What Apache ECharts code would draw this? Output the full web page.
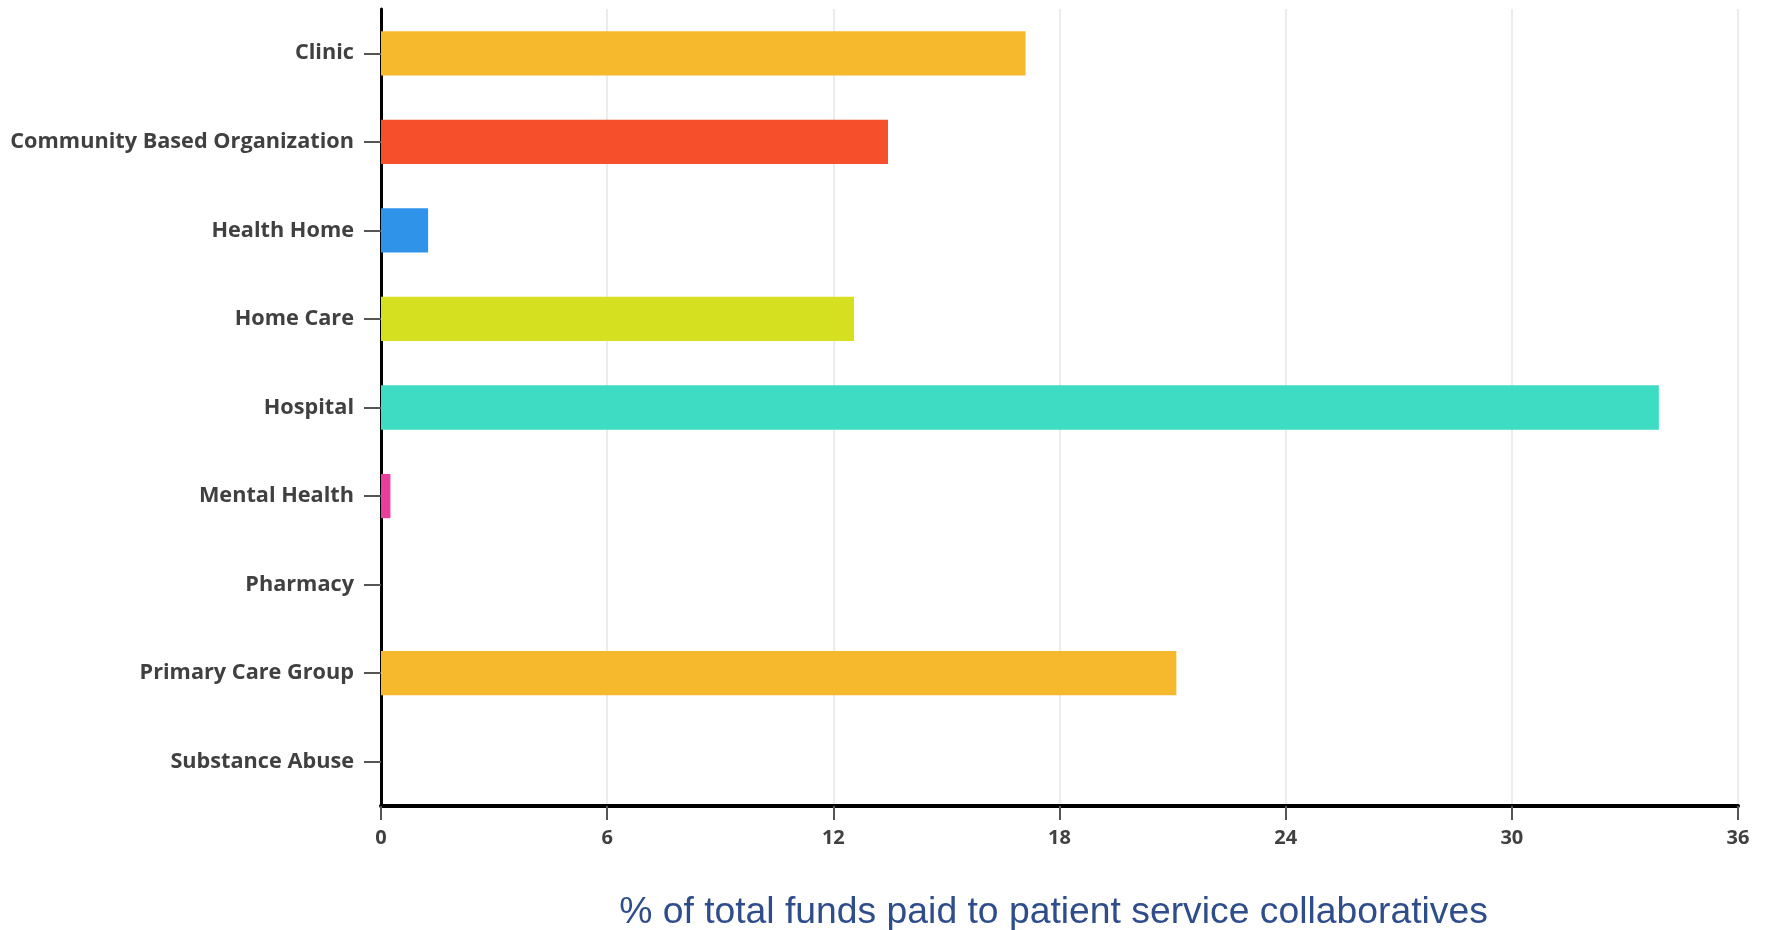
<!DOCTYPE html>
<html>
<head>
<meta charset="utf-8">
<script src="https://cdn.jsdelivr.net/npm/echarts@6/dist/echarts.min.js"></script>
<style>
  html, body { margin: 0; padding: 0; background: #fff; }
  #main { width: 1772px; height: 930px; }
</style>
</head>
<body>
<div id="main"></div>
<script>
// categories, top to bottom
var categories = ['Clinic', 'Community Based Organization', 'Health Home', 'Home Care',
  'Hospital', 'Mental Health', 'Pharmacy', 'Primary Care Group', 'Substance Abuse'];
// % of total funds
var values = [17.1, 13.45, 1.25, 12.55, 33.9, 0.25, 0, 21.1, 0];
var barColors = ['#f6b92d', '#f54f2b', '#2f93e9', '#d5e020', '#3ddcc3', '#e83f9e',
  '#999999', '#f6b92d', '#999999'];
var xTicks = [0, 6, 12, 18, 24, 30, 36];
var axisTitle = '% of total funds paid to patient service collaboratives';

var chart = echarts.init(document.getElementById('main'));

chart.setOption({
  animation: false,
  grid: { left: 381, right: 34, top: 9, bottom: 124, outerBoundsMode: 'none' },
  xAxis: {
    type: 'value',
    min: xTicks[0],
    max: xTicks[xTicks.length - 1],
    interval: xTicks[1] - xTicks[0],
    name: axisTitle,
    nameLocation: 'middle',
    nameGap: 88,
    nameTextStyle: {
      fontFamily: 'Liberation Sans', fontSize: 37.3, color: '#2f4c8b',
      padding: [0, 12, 0, 0]
    },
    axisLine: { show: true, lineStyle: { color: '#000', width: 4 } },
    axisTick: { show: true, length: 14, lineStyle: { color: '#555', width: 2 } },
    axisLabel: { margin: 22, fontFamily: 'Open Sans', fontWeight: 'bold', fontSize: 20, color: '#404040' },
    splitLine: { show: true, lineStyle: { color: '#ececec', width: 2 } }
  },
  yAxis: {
    type: 'category',
    inverse: true,
    data: categories,
    axisLine: { show: true, lineStyle: { color: '#000', width: 3 } },
    axisTick: { show: true, alignWithLabel: true, length: 17, lineStyle: { color: '#555', width: 2 } },
    axisLabel: { margin: 27, fontFamily: 'Open Sans', fontWeight: 'bold', fontSize: 21.7, color: '#404040' }
  },
  series: [{
    type: 'bar',
    data: values.map(function (v, i) {
      return { value: v, itemStyle: { color: barColors[i] } };
    }),
    barWidth: '50%'
  }]
});
</script>
</body>
</html>
